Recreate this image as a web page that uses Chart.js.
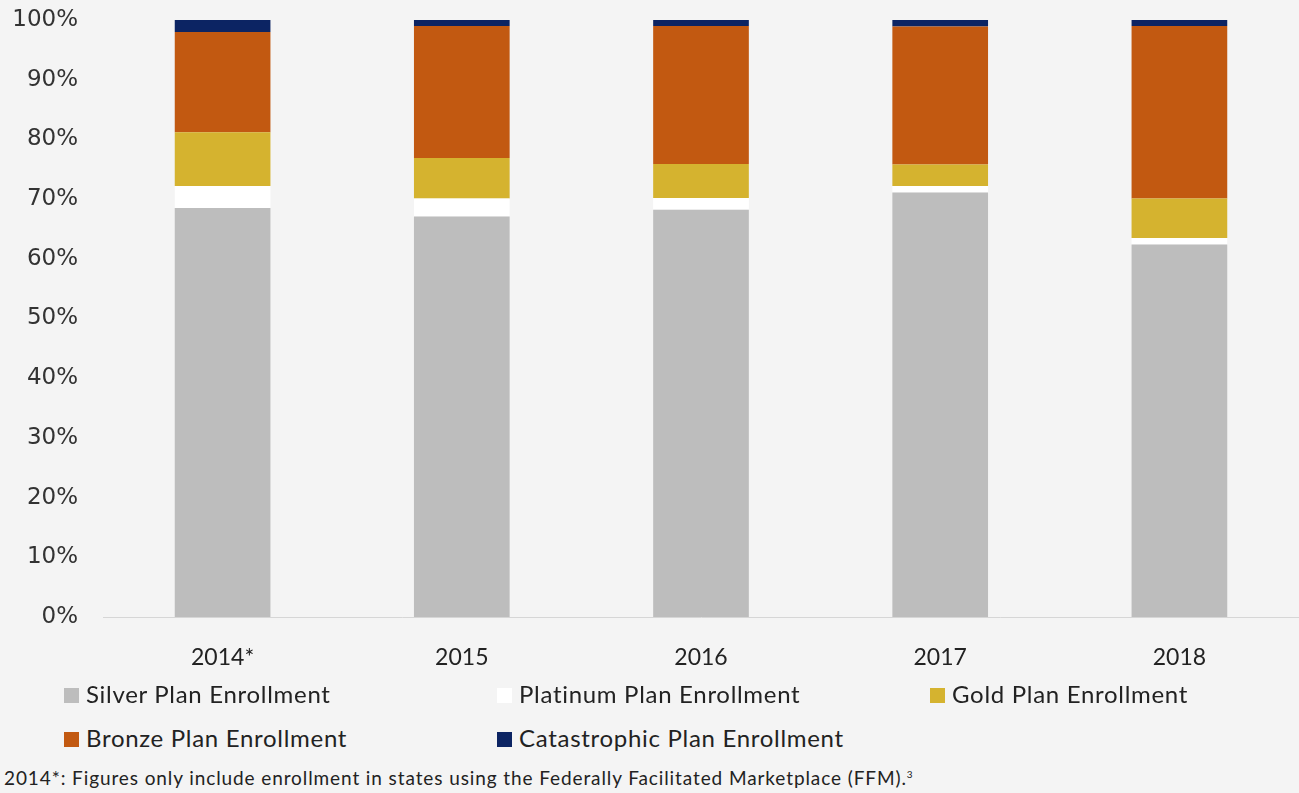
<!DOCTYPE html>
<html lang="en">
  <head>
    <meta charset="UTF-8" />
    <title>Plan Enrollment by Metal Level</title>
    <script src="https://cdn.jsdelivr.net/npm/chart.js"></script>
    <style>
      body {
        margin: 0;
        background: #f4f4f4;
        font-family: Lato, sans-serif;
        color: #222;
      }
      .wrap {
        position: relative;
        width: 1299px;
        height: 793px;
      }
      canvas {
        position: absolute;
        left: 0;
        top: 0;
      }
      .legend-item {
        position: absolute;
        font-size: 24px;
        letter-spacing: 0.7px;
        line-height: 28px;
        white-space: nowrap;
      }
      .legend-item span.box {
        display: inline-block;
        width: 15px;
        height: 15px;
        margin-right: 7px;
        vertical-align: 0px;
      }
      .note {
        position: absolute;
        left: 4px;
        top: 766px;
        font-size: 19px;
        letter-spacing: 0.9px;
        white-space: nowrap;
      }
    </style>
  </head>
  <body>
    <div class="wrap" id="wrap">
      <canvas id="chart" width="1299" height="680"></canvas>
      <div class="note">
        2014*: Figures only include enrollment in states using the Federally Facilitated Marketplace (FFM).<sup style="font-size: 10px">3</sup>
      </div>
    </div>

    <script>
      // years on the x axis
      const years = ["2014*", "2015", "2016", "2017", "2018"];

      // share of enrollment per metal level, in percent
      const silver = [68.5, 67.1, 68.2, 71.1, 62.4];
      const platinum = [3.7, 3.0, 2.0, 1.1, 1.1];
      const gold = [9.0, 6.8, 5.7, 3.6, 6.6];
      const bronze = [16.8, 22.1, 23.1, 23.1, 28.9];
      const catastrophic = [2.0, 1.0, 1.0, 1.1, 1.0];

      const seriesNames = [
        "Silver Plan Enrollment",
        "Platinum Plan Enrollment",
        "Gold Plan Enrollment",
        "Bronze Plan Enrollment",
        "Catastrophic Plan Enrollment",
      ];
      const seriesColors = ["#bdbdbd", "#ffffff", "#d5b32f", "#c25911", "#0c2463"];
      const seriesData = [silver, platinum, gold, bronze, catastrophic];

      const ctx = document.getElementById("chart").getContext("2d");

      const chart = new Chart(ctx, {
        type: "bar",
        data: {
          labels: years,
          datasets: seriesData.map((d, i) => ({
            label: seriesNames[i],
            data: d,
            backgroundColor: seriesColors[i],
            borderWidth: 0,
            categoryPercentage: 1,
            barPercentage: 0.4,
          })),
        },
        options: {
          responsive: false,
          animation: false,
          layout: { padding: { top: 20, right: 0, left: 0, bottom: 0 } },
          plugins: {
            legend: { display: false },
            tooltip: { enabled: false },
          },
          scales: {
            x: {
              stacked: true,
              grid: { display: false },
              border: { color: "#d6d6d6", width: 1 },
              ticks: {
                color: "#222",
                padding: 19,
                font: { family: "Lato", size: 23 },
              },
              afterFit: (s) => {
                s.height = 63;
              },
            },
            y: {
              stacked: true,
              min: 0,
              max: 100,
              grid: { display: false },
              border: { display: false },
              ticks: {
                stepSize: 10,
                color: "#333",
                padding: 17,
                font: { family: "DejaVu Sans", size: 23 },
                callback: (v) => v + "%",
              },
              afterFit: (s) => {
                s.width = 103;
                s.paddingTop = 0;
                s.paddingBottom = 0;
              },
            },
          },
        },
      });

      // legend laid out in three columns like the original
      const legendPos = [
        [64, 680],
        [497, 680],
        [930, 680],
        [64, 724],
        [497, 724],
      ];
      const wrap = document.getElementById("wrap");
      seriesNames.forEach((name, i) => {
        const item = document.createElement("div");
        item.className = "legend-item";
        item.style.left = legendPos[i][0] + "px";
        item.style.top = legendPos[i][1] + "px";
        item.innerHTML =
          '<span class="box" style="background:' + seriesColors[i] + '"></span>' + name;
        wrap.appendChild(item);
      });
    </script>
  </body>
</html>
